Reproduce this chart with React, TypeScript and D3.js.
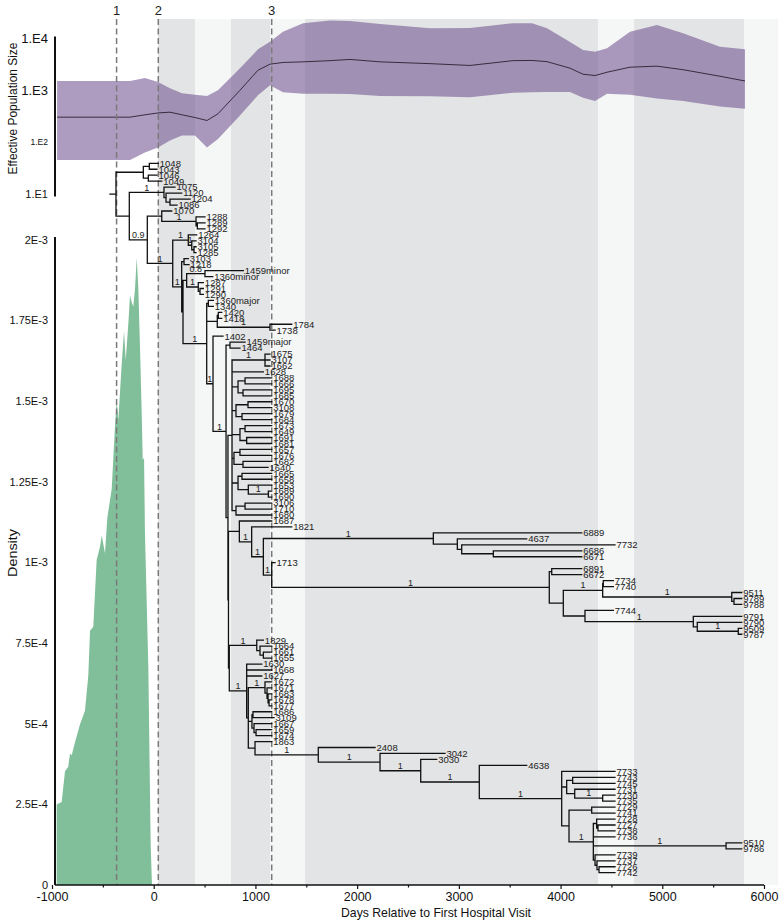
import React, { useEffect, useRef } from "react";
import * as d3 from "d3";

// shaded periods behind the tree (days)
const bandStart = [42, 406, 760, 1143, 1488, 4369, 4723, 5804];
const bandEnd = [406, 760, 1143, 1488, 4369, 4723, 5804, 6139];
const bandTone = ["dark", "light", "dark", "light", "dark", "light", "dark", "light"];

// numbered event markers
const markerDays = [-365, 45, 1160];
const markerLabels = ["1", "2", "3"];

// effective population size (skyline)
const neDays = [-950, -233, -86, 42, 160, 278, 406, 524, 632, 848, 1025, 1143, 1271, 1468, 1733, 1930, 2225, 2716, 3110, 3532, 3719, 3867, 4093, 4221, 4339, 4457, 4683, 4948, 5204, 5567, 5813];
const neMedian = [307, 307, 341, 370, 383, 341, 302, 265, 357, 1008, 2456, 3210, 3462, 3556, 3750, 3957, 3556, 3283, 3030, 3750, 3785, 3589, 2685, 2055, 1940, 2247, 2809, 2937, 2512, 1880, 1525];
const neUpper = [1525, 1525, 1743, 1459, 1102, 881, 832, 781, 1008, 2685, 6180, 8670, 13540, 19700, 22110, 21820, 19080, 15750, 15960, 19700, 19700, 15750, 8555, 5990, 5553, 6460, 13540, 18250, 12610, 6940, 6180];
const neLower = [46, 46, 64, 80, 109, 136, 136, 80, 117, 331, 806, 1259, 922, 870, 862, 855, 781, 771, 738, 910, 922, 934, 934, 728, 626, 870, 824, 705, 631, 494, 446];
const neTicks = [10000, 1000, 100, 10];
const neTickLabels = ["1.E4", "1.E3", "1.E2", "1.E1"];

// root age density
const densDays = [-954, -905, -872, -840, -823, -806, -774, -725, -676, -643, -626, -594, -561, -528, -511, -479, -456, -413, -381, -364, -348, -315, -292, -275, -250, -233, -216, -201, -184, -167, -151, -135, -118, -108, -95, -86, -53, -30, -17];
const densValues = [2.5e-4, 2.57e-4, 3.53e-4, 3.67e-4, 4.08e-4, 4.02e-4, 4.43e-4, 4.98e-4, 5.4e-4, 6.5e-4, 7.88e-4, 8.01e-4, 1.008e-3, 1.049e-3, 1.084e-3, 1.029e-3, 1.139e-3, 1.228e-3, 1.421e-3, 1.504e-3, 1.442e-3, 1.614e-3, 1.718e-3, 1.628e-3, 1.738e-3, 1.828e-3, 1.807e-3, 1.793e-3, 1.848e-3, 1.945e-3, 1.848e-3, 1.669e-3, 1.463e-3, 1.318e-3, 1.325e-3, 1.091e-3, 6.79e-4, 1.27e-4, 0];
const densTicks = [2e-3, 1.75e-3, 1.5e-3, 1.25e-3, 1e-3, 7.5e-4, 5e-4, 2.5e-4, 0];
const densTickLabels = ["2E-3", "1.75E-3", "1.5E-3", "1.25E-3", "1E-3", "7.5E-4", "5E-4", "2.5E-4", "0"];

const xTicks = [-1000, -500, 0, 500, 1000, 1500, 2000, 2500, 3000, 3500, 4000, 4500, 5000, 5500, 6000];

// dated tree: name:day for tips, (children)support:day for nodes
const rootStemDay = -430;
const cladeA = "((1048:45,1043:32):-43,(1046:32,1049:79):-53):-102";
const cladeC = "(1075:209,(1120:275,(1204:357,1086:229):160):121)1:101";
const cladeE = "(1070:177,(1288:504,(1289:504,1292:504):429)1:416):79";
const cladeG = "(1264:423,(3104:416,(3105:416,1285:416):396)1:374)1:340";
const cladeH1 = "(3103:340,1218:347):298";
const cladeI = "((1459minor:881,1360minor:580)0.8:504,(1287:488,(1291:488,1290:488):455)1:438):324";
const cladeM = "((1420:669,1418:669):635,(1784:1357,1738:1193)1:1143):625";
const cladeO1 = "(1459major:898,1464:848):750";
const cladeBig =
  "((1675:1143,3107:1143,1662:1143)1:1094,1628:1078," +
  "((1688:1160,1666:1160):898,(1695:1160,1685:1160):878):829," +
  "((1670:1160,3108:1160):927,(1679:1160,1684:1160):868):809," +
  "((1673:1160,1649:1160):898,(1691:1160,1681:1160):914):848," +
  "((1657:1160,1676:1160):848,(1682:1160,1640:1124):878):789," +
  "((1665:1160,1658:1160):868,(1653:1160,(1689:1160,1690:1160)1:1127):930):829," +
  "((3106:1160,1710:1160):898,1680:1160):809):770";
const cladeR5 =
  "((6891:4208,6672:4208):3913,(((7734:4519,7740:4519):4420,(9511:5781,(9789:5781,9788:5781):5705)1:5683)1:4414," +
  "(7744:4519,(9791:5781,(9790:5781,(9509:5781,9787:5781)1:5747):5344)1:5305):4240):4027)1:3889";
const cladeR = `(1687:1160,(1821:1357,((6889:4208,(4637:3667,(7732:4535,(6686:4208,6671:4208):3339):3028):2985)1:2749,(1713:1193,${cladeR5})1:1160)1:1078)1:963):842`;
const cladeW =
  "(7733:4535,((7743:4535,7745:4535):4119,(7731:4535,(7730:4535,7735:4535)1:4414):4139):4060," +
  "((7729:4535,7741:4535):4306,((7728:4535,(7727:4535,7738:4535):4368):4355,7736:4535,(9510:5781,9786:5781)1:5627," +
  "(7739:4535,(7737:4535,(7726:4535,7742:4535):4378):4358):4339)1:4322):4083)1:4011";
const cladeU = `(2408:2176,(3042:2864,(3030:2782,(4638:3667,${cladeW})1:3201)1:2625)1:2225)1:1618`;
const cladeT = "(1672:1160,(1671:1160,(1683:1160,(1678:1160,1677:1160):1134):1124):1114)1:1094";
const cladeS = `(1630:1062,1668:1160,1627:1062,(${cladeT},((1686:1160,3109:1183):976,(1667:1160,(1659:1160,1674:1160):1006):986):966,(1863:1160,${cladeU}):996):930)1:914`;
const cladeQ = "(1829:1078,(1664:1160,(1661:1160,1655:1160):1078):1045)1:1013";
const cladeO = `(${cladeO1},(${cladeBig},(${cladeR},(${cladeQ},${cladeS}):743):735):730)1:711`;
const cladeL = `((1360major:586,1340:586):537,${cladeM},(1402:681,${cladeO})1:583)1:521`;
const cladeH = `(${cladeH1},(${cladeI},${cladeL}):288)1:275`;
const treeNewick = `(${cladeA},((${cladeC}),(${cladeE},(${cladeG},${cladeH})1:187)0.9:-63):-240):-371`;

type TreeDatum = { name: string; support: string; date: number; children?: TreeDatum[] };

const parseTree = (s: string): TreeDatum => {
  let i = 0;
  const read = (): TreeDatum => {
    const children: TreeDatum[] = [];
    if (s[i] === "(") {
      i++;
      children.push(read());
      while (s[i] === ",") {
        i++;
        children.push(read());
      }
      i++;
    }
    let label = "";
    while (i < s.length && ",():".indexOf(s[i]) < 0) label += s[i++];
    let date = "";
    if (s[i] === ":") {
      i++;
      while (i < s.length && ",()".indexOf(s[i]) < 0) date += s[i++];
    }
    if (children.length === 1) return children[0];
    return children.length
      ? { name: "", support: label, date: +date, children }
      : { name: label, support: "", date: +date };
  };
  return read();
};

const FONT = "'Liberation Sans', Arial, sans-serif";

export default function App() {
  const axisRef = useRef<SVGGElement>(null);

  const x = d3.scaleLinear().domain([-1000, 6000]).range([52, 764]);
  const yNe = d3.scaleLog().domain([10, 10000]).range([194.5, 38.5]);
  const yDen = d3.scaleLinear().domain([0, 0.002]).range([885, 240]);
  const bandTop = 19;
  const axisX = 55;

  // tree layout
  const root = d3.hierarchy(parseTree(treeNewick));
  const leaves = root.leaves();
  const yTip = d3.scalePoint<number>().domain(d3.range(leaves.length)).range([163.3, 872.7]);
  const ty = new Map<any, number>();
  leaves.forEach((l, i) => ty.set(l, yTip(i) as number));
  root.eachAfter((n) => {
    if (n.children) ty.set(n, (ty.get(n.children[0])! + ty.get(n.children[n.children.length - 1])!) / 2);
  });
  let treePath = `M${x(rootStemDay)},${ty.get(root)}H${x(root.data.date)}`;
  root.each((n) => {
    if (n.parent) treePath += `M${x(n.parent.data.date)},${ty.get(n)}H${x(n.data.date)}`;
    if (n.children) treePath += `M${x(n.data.date)},${ty.get(n.children[0])}V${ty.get(n.children[n.children.length - 1])}`;
  });
  const supported = root.descendants().filter((n) => n.parent && n.data.support);

  const neArea = d3
    .area<number>()
    .x((_, i) => x(neDays[i]))
    .y0((_, i) => yNe(neLower[i]))
    .y1((_, i) => yNe(neUpper[i]));
  const neLine = d3
    .line<number>()
    .x((_, i) => x(neDays[i]))
    .y((d) => yNe(d));
  const densArea = d3
    .area<number>()
    .x((_, i) => x(densDays[i]))
    .y0(yDen(0))
    .y1((d) => yDen(d));

  useEffect(() => {
    const g = d3.select(axisRef.current);
    g.selectAll("*").remove();
    g.call(
      d3
        .axisBottom(x)
        .tickValues(xTicks)
        .tickSize(4)
        .tickSizeOuter(0)
        .tickFormat((d) => (+d % 1000 === 0 ? String(d) : ""))
    );
    g.select(".domain").remove();
    g.attr("font-family", FONT).attr("font-size", 12.5);
    g.selectAll(".tick line").attr("stroke", "#111").attr("stroke-width", 1.2);
    g.selectAll<SVGGElement, number>(".tick")
      .filter((d) => d % 1000 !== 0)
      .select("line")
      .attr("y2", 2.5);
    g.selectAll(".tick text").attr("fill", "#111");
  }, []);

  const neLabelSize = (v: number) => (v === 100 ? 8.5 : v === 10 ? 11 : 13);

  return (
    <svg width={780} height={920} style={{ position: "absolute", left: 0, top: 0, background: "#fff" }}>
      {/* shaded periods */}
      {bandStart.map((s, i) => (
        <rect
          key={"b" + i}
          x={x(s)}
          y={bandTop}
          width={x(bandEnd[i]) - x(s)}
          height={yDen(0) - bandTop}
          fill={bandTone[i] === "dark" ? "#e3e4e5" : "#f5f6f6"}
        />
      ))}

      {/* effective population size */}
      <path d={neArea(neMedian) || ""} fill="#6a4a8c" fillOpacity={0.55} />
      <path d={neLine(neMedian) || ""} fill="none" stroke="#2a2030" strokeWidth={0.9} />

      {/* density */}
      <path d={densArea(densValues) || ""} fill="#80bf99" />

      {/* markers */}
      {markerDays.map((d, i) => (
        <g key={"m" + i}>
          <line x1={x(d)} x2={x(d)} y1={bandTop} y2={yDen(0)} stroke="#7a7a7a" strokeWidth={1.5} strokeDasharray="6,3.5" />
          <text x={x(d)} y={15} textAnchor="middle" fontFamily={FONT} fontSize={13} fill="#222">
            {markerLabels[i]}
          </text>
        </g>
      ))}

      {/* tree */}
      <path d={treePath} fill="none" stroke="#111" strokeWidth={1.3} strokeLinecap="square" />
      {leaves.map((l, i) => (
        <text key={"t" + i} x={x(l.data.date) + 1.5} y={ty.get(l)} dy="0.35em" fontFamily={FONT} fontSize={9.5} fill="#222">
          {l.data.name}
        </text>
      ))}
      {supported.map((n, i) => (
        <text
          key={"s" + i}
          x={(x(n.parent!.data.date) + x(n.data.date)) / 2}
          y={ty.get(n)! - 1.8}
          textAnchor="middle"
          fontFamily={FONT}
          fontSize={9}
          fill="#222"
        >
          {n.data.support}
        </text>
      ))}

      {/* axes */}
      <line x1={axisX} x2={axisX} y1={yNe(10000) - 2} y2={yNe(10) + 2} stroke="#111" strokeWidth={2} />
      {neTicks.map((v, i) => (
        <text key={"n" + i} x={48} y={yNe(v)} dy="0.35em" textAnchor="end" fontFamily={FONT} fontSize={neLabelSize(v)} fill="#111">
          {neTickLabels[i]}
        </text>
      ))}
      <line x1={axisX} x2={axisX} y1={yDen(0.002) - 3} y2={yDen(0)} stroke="#111" strokeWidth={2} />
      {densTicks.map((v, i) => (
        <text key={"d" + i} x={48} y={yDen(v)} dy="0.35em" textAnchor="end" fontFamily={FONT} fontSize={11} fill="#111">
          {densTickLabels[i]}
        </text>
      ))}
      <line x1={axisX} x2={x(6000)} y1={yDen(0)} y2={yDen(0)} stroke="#111" strokeWidth={1.5} />
      <g ref={axisRef} transform={`translate(0,${yDen(0)})`} />

      <text
        transform={`translate(17,${(yNe(10000) + yNe(10)) / 2 - 8}) rotate(-90)`}
        textAnchor="middle"
        fontFamily={FONT}
        fontSize={12.5}
        textLength={132}
        lengthAdjust="spacingAndGlyphs"
        fill="#111"
      >
        Effective Population Size
      </text>
      <text
        transform={`translate(17,553) rotate(-90)`}
        textAnchor="middle"
        fontFamily={FONT}
        fontSize={13}
        textLength={48}
        lengthAdjust="spacingAndGlyphs"
        fill="#111"
      >
        Density
      </text>
      <text
        x={436}
        y={917}
        textAnchor="middle"
        fontFamily={FONT}
        fontSize={13}
        textLength={190}
        lengthAdjust="spacingAndGlyphs"
        fill="#111"
      >
        Days Relative to First Hospital Visit
      </text>
    </svg>
  );
}
